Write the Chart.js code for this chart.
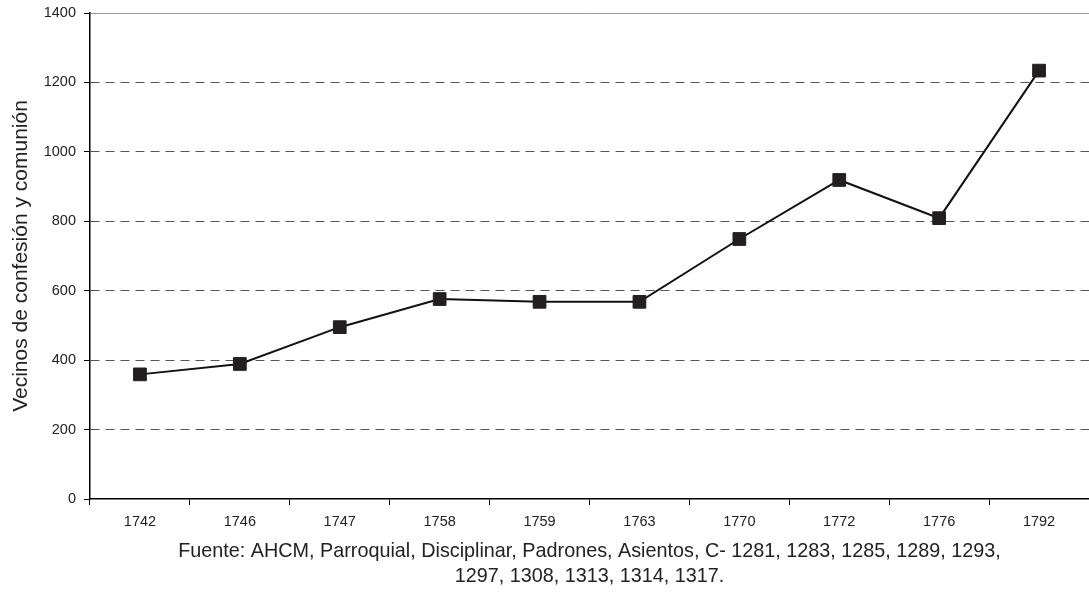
<!DOCTYPE html>
<html>
<head>
<meta charset="utf-8">
<script src="https://cdn.jsdelivr.net/npm/chart.js@4/dist/chart.umd.min.js"></script>
<style>
  html, body { margin: 0; padding: 0; background: #fff; overflow: hidden; }
  #wrap { width: 1089px; height: 593px; position: relative; }
</style>
</head>
<body>
<div id="wrap"><canvas id="chart"></canvas></div>
<script>
const years = ['1742', '1746', '1747', '1758', '1759', '1763', '1770', '1772', '1776', '1792'];
const vecinos = [359, 389, 495, 576, 568, 568, 749, 919, 809, 1234];
const yMin = 0;
const yMax = 1400;
const yStep = 200;
const yTitle = 'Vecinos de confesión y comunión';
const sourceLines = [
  'Fuente: AHCM, Parroquial, Disciplinar, Padrones, Asientos, C- 1281, 1283, 1285, 1289, 1293,',
  '1297, 1308, 1313, 1314, 1317.'
];

const ink = '#222';
const font = 'Arial, "Liberation Sans", sans-serif';

new Chart(document.getElementById('chart'), {
  type: 'line',
  data: {
    labels: years,
    datasets: [{
      data: vecinos,
      borderColor: '#111',
      borderWidth: 2,
      pointStyle: 'rect',
      pointRadius: 9,
      pointBorderWidth: 1,
      pointBackgroundColor: '#231f20',
      pointBorderColor: '#231f20',
      tension: 0,
      clip: false
    }]
  },
  options: {
    responsive: true,
    maintainAspectRatio: false,
    animation: false,
    layout: { autoPadding: false, padding: { top: 13, left: 0, right: 0, bottom: 0 } },
    plugins: {
      legend: { display: false },
      tooltip: { enabled: false }
    },
    scales: {
      x: {
        offset: true,
        grid: {
          offset: true,
          drawOnChartArea: false,
          tickLength: 6,
          tickColor: '#000',
          tickWidth: 1
        },
        border: { color: '#000', width: 1.5 },
        ticks: {
          color: ink,
          font: { family: font, size: 14.5 },
          padding: 8,
          maxRotation: 0
        },
        title: {
          display: true,
          text: sourceLines,
          color: ink,
          font: { family: font, size: 19.8, lineHeight: 25 / 19.8 },
          padding: { top: 0, bottom: 4 }
        },
        afterFit: (scale) => { scale.height = 94; }
      },
      y: {
        min: yMin,
        max: yMax,
        grid: {
          // 0 line is covered by the axis, top line is solid grey
          color: (ctx) => ctx.tick && ctx.tick.value === yMin ? 'rgba(0,0,0,0)' : (ctx.tick && ctx.tick.value === yMax ? '#999' : '#555'),
          lineWidth: 1,
          tickLength: 6,
          tickColor: '#000',
          tickWidth: 1
        },
        border: {
          color: '#000',
          width: 1.5,
          dash: (ctx) => ctx.tick && ctx.tick.value === yMax ? [] : [9, 6]
        },
        ticks: {
          stepSize: yStep,
          color: ink,
          font: { family: font, size: 14.5 },
          padding: 8,
          callback: (v) => String(v)
        },
        title: {
          display: true,
          text: yTitle,
          color: ink,
          font: { family: font, size: 21, lineHeight: 1.2 },
          padding: { top: 9, bottom: 0 }
        },
        afterFit: (scale) => {
          scale.width = 90;
          scale.paddingTop = 0;
        }
      }
    }
  }
});
</script>
</body>
</html>
